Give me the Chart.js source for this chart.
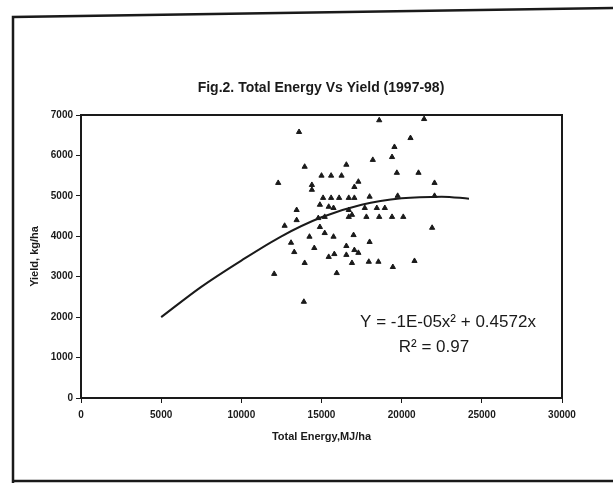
<!DOCTYPE html>
<html lang="en">
<head>
<meta charset="UTF-8">
<title>Fig.2. Total Energy Vs Yield (1997-98)</title>
<script src="https://cdn.jsdelivr.net/npm/chart.js"></script>
<style>
  html, body { margin: 0; padding: 0; background: #fff; }
  #wrap { width: 613px; height: 483px; position: relative; overflow: hidden; }
</style>
</head>
<body>
<div id="wrap"><canvas id="chart" width="613" height="483"></canvas></div>
<script>
// observed points (Total Energy MJ/ha, Yield kg/ha)
const energy = [18600, 21400, 13600, 20550, 19550, 13950, 16550, 18200, 19400, 19700,
  21050, 12300, 14400, 14400, 15000, 15600, 16250, 17300, 17050, 22050,
  15100, 15600, 16100, 16700, 17050, 18000, 19750, 22050, 14900, 15450,
  15750, 13450, 13450, 12700, 14800, 15200, 16700, 16900, 17700, 18450,
  18950, 16700, 17800, 18600, 19400, 20100, 21900, 14900, 15200, 14250,
  15750, 17000, 13100, 13300, 14550, 16550, 17050, 17300, 18000, 15450,
  15800, 16550, 13950, 15950, 16900, 17950, 18550, 19450, 20800, 12050, 13900];
const yieldKg = [6870, 6900, 6580, 6430, 6210, 5720, 5770, 5890, 5960, 5570,
  5570, 5320, 5270, 5150, 5500, 5500, 5500, 5350, 5220, 5320,
  4950, 4950, 4950, 4950, 4950, 4980, 5000, 5000, 4780, 4730,
  4700, 4650, 4400, 4260, 4450, 4480, 4650, 4530, 4700, 4700,
  4700, 4480, 4480, 4480, 4480, 4480, 4210, 4230, 4080, 3990,
  3990, 4030, 3840, 3610, 3710, 3760, 3660, 3590, 3860, 3490,
  3560, 3540, 3340, 3090, 3340, 3370, 3370, 3240, 3390, 3070, 2380];

// polynomial trend line
const trendX = [5000, 7500, 10000, 12500, 15000, 17500, 20000, 22500, 24200];
const trendY = [2000, 2750, 3400, 4000, 4470, 4780, 4940, 4980, 4930];

const xTicks = [0, 5000, 10000, 15000, 20000, 25000, 30000];
const yTicks = [0, 1000, 2000, 3000, 4000, 5000, 6000, 7000];

const titleText = 'Fig.2. Total Energy Vs Yield (1997-98)';
const eqText = 'Y = -1E-05x\u00b2 + 0.4572x';
const r2Text = 'R\u00b2 = 0.97';

const ink = '#1a1a1a';
const tickFont = { family: 'Liberation Sans, Arial, sans-serif', size: 10, weight: 'bold' };

// frame, plot box, title and equation
const extras = {
  id: 'extras',
  afterDraw(chart) {
    const { ctx, chartArea: a } = chart;
    ctx.save();
    ctx.strokeStyle = ink;
    ctx.lineWidth = 2;
    ctx.strokeRect(a.left, a.top, a.right - a.left, a.bottom - a.top);

    ctx.lineWidth = 2.5;
    ctx.beginPath();
    ctx.moveTo(13, 483);
    ctx.lineTo(13, 17);
    ctx.lineTo(613, 8);
    ctx.stroke();
    ctx.beginPath();
    ctx.moveTo(13, 481);
    ctx.lineTo(613, 481);
    ctx.stroke();

    ctx.fillStyle = ink;
    ctx.textAlign = 'center';
    ctx.textBaseline = 'middle';
    ctx.font = 'bold 14px "Liberation Sans", Arial, sans-serif';
    ctx.fillText(titleText, 321, 88);

    ctx.font = '17px "Liberation Sans", Arial, sans-serif';
    ctx.fillText(eqText, 448, 322);
    ctx.fillText(r2Text, 434, 347);
    ctx.restore();
  }
};

new Chart(document.getElementById('chart'), {
  type: 'scatter',
  data: {
    datasets: [
      {
        label: 'Yield',
        data: energy.map((x, i) => ({ x: x, y: yieldKg[i] })),
        pointStyle: 'triangle',
        pointRadius: 3,
        backgroundColor: ink,
        borderColor: ink,
        borderWidth: 1
      },
      {
        label: 'Poly. trend',
        type: 'line',
        data: trendX.map((x, i) => ({ x: x, y: trendY[i] })),
        borderColor: ink,
        borderWidth: 2,
        pointRadius: 0,
        cubicInterpolationMode: 'monotone',
        fill: false
      }
    ]
  },
  options: {
    responsive: false,
    animation: false,
    events: [],
    layout: { padding: { left: 28, top: 115, right: 51, bottom: 0 } },
    plugins: {
      legend: { display: false },
      tooltip: { enabled: false },
      title: { display: false }
    },
    scales: {
      x: {
        type: 'linear',
        min: 0,
        max: 30000,
        afterFit(scale) { scale.height = 85; },
        afterBuildTicks(scale) { scale.ticks = xTicks.map(v => ({ value: v })); },
        ticks: { color: ink, font: tickFont, padding: 6, maxRotation: 0, callback: v => String(v) },
        grid: { drawOnChartArea: false, drawTicks: true, tickLength: 5, color: ink },
        border: { color: ink, width: 2 },
        title: {
          display: true,
          text: 'Total Energy,MJ/ha',
          color: ink,
          font: { family: 'Liberation Sans, Arial, sans-serif', size: 11, weight: 'bold' },
          padding: { top: 0, bottom: 39 }
        }
      },
      y: {
        min: 0,
        max: 7000,
        afterFit(scale) { scale.width = 53; },
        afterBuildTicks(scale) { scale.ticks = yTicks.map(v => ({ value: v })); },
        ticks: { color: ink, font: tickFont, padding: 3, callback: v => String(v) },
        grid: { drawOnChartArea: false, drawTicks: true, tickLength: 5, color: ink },
        border: { color: ink, width: 2 },
        title: {
          display: true,
          text: 'Yield, kg/ha',
          color: ink,
          font: { family: 'Liberation Sans, Arial, sans-serif', size: 11, weight: 'bold' },
          padding: { top: 0, bottom: 0 }
        }
      }
    }
  },
  plugins: [extras]
});
</script>
</body>
</html>
